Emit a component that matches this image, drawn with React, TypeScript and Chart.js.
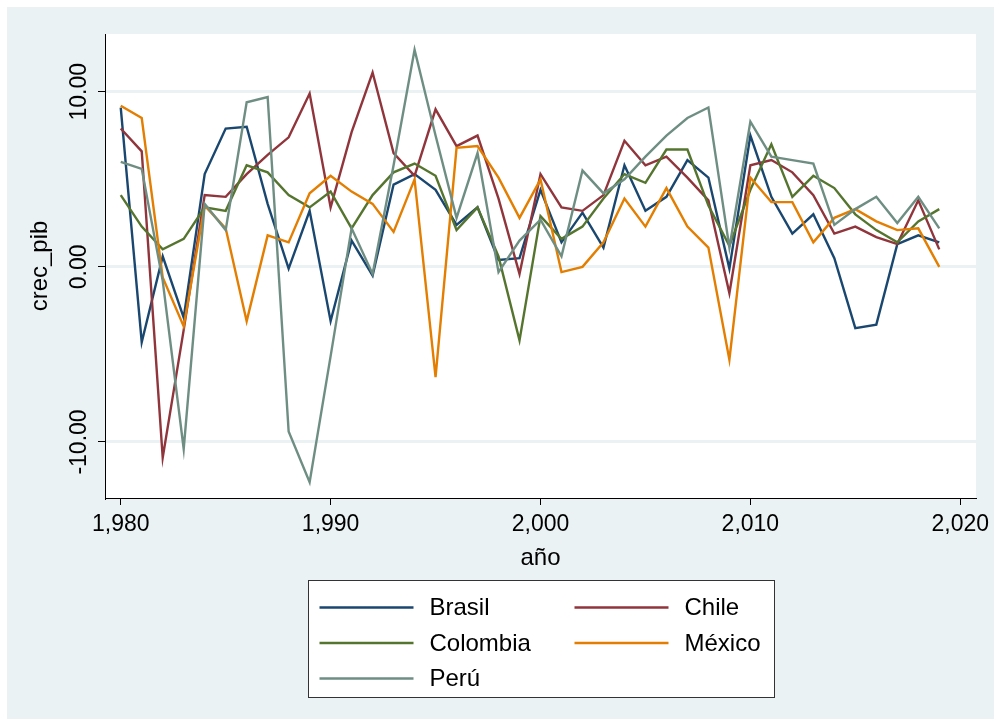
import React, { useEffect, useRef } from "react";
import { Chart, registerables } from "chart.js";

Chart.register(...registerables);

const years = [
  1980, 1981, 1982, 1983, 1984, 1985, 1986, 1987, 1988, 1989,
  1990, 1991, 1992, 1993, 1994, 1995, 1996, 1997, 1998, 1999,
  2000, 2001, 2002, 2003, 2004, 2005, 2006, 2007, 2008, 2009,
  2010, 2011, 2012, 2013, 2014, 2015, 2016, 2017, 2018, 2019,
];

const brasil = [
  9.1, -4.3, 0.6, -2.9, 5.3, 7.9, 8.0, 3.6, -0.1, 3.2,
  -3.1, 1.5, -0.5, 4.7, 5.3, 4.4, 2.4, 3.4, 0.4, 0.5,
  4.4, 1.4, 3.1, 1.1, 5.8, 3.2, 4.0, 6.1, 5.1, -0.1,
  7.5, 4.0, 1.9, 3.0, 0.5, -3.5, -3.3, 1.3, 1.8, 1.4,
];

const chile = [
  7.9, 6.6, -10.9, -3.6, 4.1, 4.0, 5.3, 6.4, 7.4, 9.9,
  3.4, 7.7, 11.1, 6.5, 5.2, 9.0, 6.9, 7.5, 3.9, -0.4,
  5.3, 3.4, 3.2, 4.1, 7.2, 5.8, 6.3, 5.1, 3.8, -1.5,
  5.8, 6.1, 5.4, 4.1, 1.9, 2.3, 1.7, 1.3, 3.8, 1.0,
];

const colombia = [
  4.1, 2.3, 1.0, 1.6, 3.4, 3.2, 5.8, 5.4, 4.1, 3.4,
  4.3, 2.2, 4.1, 5.4, 5.9, 5.2, 2.1, 3.4, 0.6, -4.2,
  2.9, 1.6, 2.3, 3.9, 5.3, 4.8, 6.7, 6.7, 3.5, 1.2,
  4.4, 7.0, 4.0, 5.2, 4.5, 3.0, 2.1, 1.4, 2.6, 3.3,
];

const mexico = [
  9.2, 8.5, -0.6, -3.4, 3.5, 2.2, -3.1, 1.8, 1.4, 4.2,
  5.2, 4.3, 3.6, 2.0, 5.0, -6.3, 6.8, 6.9, 5.1, 2.8,
  5.0, -0.3, 0.0, 1.4, 3.9, 2.3, 4.5, 2.3, 1.1, -5.3,
  5.1, 3.7, 3.7, 1.4, 2.8, 3.3, 2.6, 2.1, 2.2, 0.0,
];

const peru = [
  6.0, 5.6, -0.8, -10.4, 3.6, 2.1, 9.4, 9.7, -9.4, -12.3,
  -5.1, 2.2, -0.4, 5.8, 12.4, 7.5, 2.8, 6.5, -0.3, 1.5,
  2.7, 0.6, 5.5, 4.2, 5.0, 6.3, 7.5, 8.5, 9.1, 1.1,
  8.3, 6.3, 6.1, 5.9, 2.4, 3.3, 4.0, 2.5, 4.0, 2.2,
];

const seriesNames = ["Brasil", "Chile", "Colombia", "México", "Perú"];
const seriesValues = [brasil, chile, colombia, mexico, peru];
const seriesColors = ["#1A476F", "#90353B", "#55752F", "#E37E00", "#6E8E84"];

const xTicks = [1980, 1990, 2000, 2010, 2020];
const yTicks = [-10, 0, 10];
const xTitle = "año";
const yTitle = "crec_pib";

const FONT = '"Liberation Sans", Arial, Helvetica, sans-serif';
const BG = "#EAF2F3";

const fmtX = (v: number) => v.toLocaleString("en-US");
const fmtY = (v: number) => v.toFixed(2);

const bgPlugin = {
  id: "stataBg",
  beforeDraw(chart: any) {
    const { ctx, chartArea: a } = chart;
    ctx.save();
    ctx.fillStyle = BG;
    ctx.fillRect(0, 0, chart.width, chart.height);
    ctx.fillStyle = "#ffffff";
    ctx.fillRect(a.left, a.top, a.right - a.left, a.bottom - a.top);
    ctx.restore();
  },
};

const yLabelPlugin = {
  id: "rotYLabels",
  afterDraw(chart: any) {
    const s = chart.scales.y;
    const ctx = chart.ctx;
    ctx.save();
    ctx.font = `23px ${FONT}`;
    ctx.fillStyle = "#000";
    ctx.textAlign = "center";
    ctx.textBaseline = "middle";
    s.ticks.forEach((t: any) => {
      const y = s.getPixelForValue(t.value);
      ctx.save();
      ctx.translate(s.right - 25, y);
      ctx.rotate(-Math.PI / 2);
      ctx.fillText(fmtY(t.value), 0, 0);
      ctx.restore();
    });
    ctx.restore();
  },
};

const legendPlugin = {
  id: "boxLegend",
  afterDraw(chart: any) {
    const ctx = chart.ctx;
    const a = chart.chartArea;
    const xs = chart.scales.x;
    const w = 466;
    const h = 117;
    const left = Math.round((a.left + a.right) / 2 - w / 2) + 0.5;
    const top = Math.round(xs.bottom + 2) + 0.5;
    ctx.save();
    ctx.fillStyle = "#ffffff";
    ctx.fillRect(left, top, w, h);
    ctx.strokeStyle = "#333333";
    ctx.lineWidth = 1;
    ctx.strokeRect(left, top, w, h);
    ctx.font = `24px ${FONT}`;
    ctx.textAlign = "left";
    ctx.textBaseline = "middle";
    chart.data.datasets.forEach((ds: any, i: number) => {
      const col = i % 2;
      const row = Math.floor(i / 2);
      const cy = top + 27 + row * 35.5;
      const lx = left + 11 + col * 255;
      ctx.strokeStyle = ds.borderColor;
      ctx.lineWidth = 2.5;
      ctx.beginPath();
      ctx.moveTo(lx, cy);
      ctx.lineTo(lx + 94, cy);
      ctx.stroke();
      ctx.fillStyle = "#000";
      ctx.fillText(ds.label, lx + 110, cy + 1);
    });
    ctx.restore();
  },
};

export default function App() {
  const ref = useRef<HTMLCanvasElement | null>(null);

  useEffect(() => {
    if (!ref.current) return;
    const datasets = seriesNames.map((name, i) => ({
      label: name,
      data: seriesValues[i].map((v, j) => ({ x: years[j], y: v })),
      borderColor: seriesColors[i],
      backgroundColor: seriesColors[i],
      borderWidth: 2.4,
      pointRadius: 0,
      tension: 0,
      fill: false,
      order: seriesNames.length - i,
    }));

    const chart = new Chart(ref.current, {
      type: "line",
      data: { datasets },
      options: {
        responsive: false,
        animation: false,
        layout: { padding: { left: 0, top: 27, right: 18, bottom: 141 } },
        plugins: {
          legend: { display: false },
          tooltip: { enabled: false },
        },
        scales: {
          x: {
            type: "linear",
            position: "bottom",
            min: 1979.25,
            max: 2020.75,
            afterBuildTicks: (s: any) => {
              s.ticks = xTicks.map((v) => ({ value: v }));
            },
            afterFit: (s: any) => {
              s.height = 80;
              s.paddingLeft = 0;
              s.paddingRight = 0;
            },
            ticks: {
              autoSkip: false,
              maxRotation: 0,
              minRotation: 0,
              padding: 6,
              color: "#000",
              font: { family: FONT, size: 23 },
              callback: (v: any) => fmtX(Number(v)),
            },
            grid: {
              drawOnChartArea: false,
              drawTicks: true,
              tickLength: 7,
              tickColor: "#000",
              tickWidth: 1,
            },
            border: { display: true, color: "#000", width: 1 },
            title: {
              display: true,
              text: xTitle,
              color: "#000",
              font: { family: FONT, size: 24 },
              padding: { top: 0, bottom: 5 },
            },
          },
          y: {
            type: "linear",
            position: "left",
            min: -13.2,
            max: 13.3,
            afterBuildTicks: (s: any) => {
              s.ticks = yTicks.map((v) => ({ value: v }));
            },
            afterFit: (s: any) => {
              s.width = 98;
              s.paddingTop = 0;
              s.paddingBottom = 0;
            },
            ticks: { display: false },
            grid: {
              color: BG,
              lineWidth: 3,
              drawTicks: true,
              tickLength: 7,
              tickColor: "#000",
              tickWidth: 1,
            },
            border: { display: true, color: "#000", width: 1 },
            title: {
              display: true,
              text: yTitle,
              color: "#000",
              font: { family: FONT, size: 24 },
              padding: { top: 19, bottom: 0 },
            },
          },
        },
      } as any,
      plugins: [bgPlugin, yLabelPlugin, legendPlugin],
    });
    return () => chart.destroy();
  }, []);

  return (
    <div style={{ position: "absolute", left: 7, top: 7, width: 987, height: 712 }}>
      <canvas ref={ref} width={987} height={712} style={{ width: 987, height: 712, display: "block" }} />
    </div>
  );
}
